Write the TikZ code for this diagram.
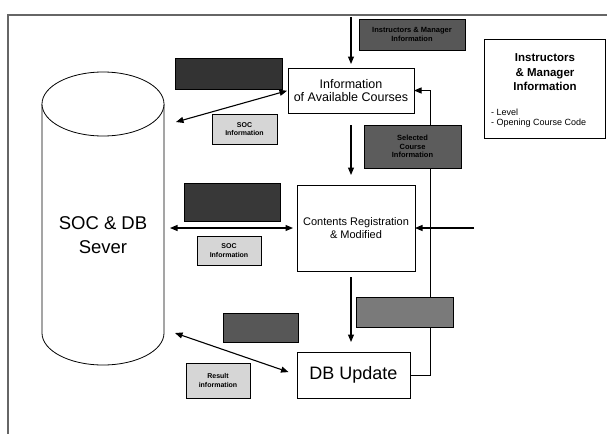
\documentclass[tikz,border=0pt]{standalone}
\usepackage{fontspec}
\setmainfont{Liberation Sans}
\usetikzlibrary{arrows.meta}
\begin{document}
\begin{tikzpicture}[x=1pt,y=-1pt,
  box/.style={draw=black,line width=0.9pt,fill=white,inner sep=0pt,outer sep=0pt,align=center},
  darkbox/.style={draw=black,line width=0.6pt,fill=black!62,inner sep=0pt,align=center,
     font=\bfseries\fontsize{7.5}{8.5}\selectfont,text=black},
  lightbox/.style={draw=black,line width=0.6pt,fill=black!16,inner sep=0pt,align=center,
     font=\bfseries\fontsize{7}{8.5}\selectfont},
  flow/.style={line width=1.1pt,-{Triangle[length=7.5pt,width=6pt]}},
  both/.style={line width=1.1pt,{Triangle[length=7.5pt,width=6pt]}-{Triangle[length=7.5pt,width=6pt]}}]
\useasboundingbox (0,0) rectangle (607,434);
\fill[white] (0,0) rectangle (607,434);
% frame
\draw[black!60,line width=1.2pt] (607,15) -- (8,15) -- (8,434);
% cylinder
\draw[line width=0.8pt] (42,104) -- (42,333) arc[start angle=180,end angle=360,x radius=61pt,y radius=32pt] -- (164,104);
\draw[line width=0.8pt,fill=white] (103,104) ellipse [x radius=61pt, y radius=32pt];
\node[inner sep=0pt,align=center,font=\fontsize{18.5}{24}\selectfont] (srv) at (103,235) {SOC \& DB\\Sever};
% process boxes
\node[box,minimum width=126pt,minimum height=45pt,font=\fontsize{12.5}{13.5}\selectfont] (b1) at (351,90.5) {Information\\of Available Courses};
\node[box,minimum width=118pt,minimum height=86pt,font=\fontsize{11}{13}\selectfont] (b2) at (356,228) {Contents Registration\\\& Modified};
\node[box,minimum width=113pt,minimum height=46pt,font=\fontsize{18}{20}\selectfont] (b3) at (353.5,375) {DB Update};
% info box
\node[box,minimum width=121pt,minimum height=99pt] (ib) at (545,88.5) {};
\node[align=center,inner sep=0pt,font=\bfseries\fontsize{11.5}{14.5}\selectfont] (it) at (545,72.5) {Instructors\\\& Manager\\Information};
\node[align=left,inner sep=0pt,anchor=west,font=\fontsize{9}{10.5}\selectfont] (il) at (491,118) {- Level\\- Opening Course Code};
% coordinates for free ends
\coordinate (tin) at (351,17);
\coordinate (rin) at (474,228);
\coordinate (c1) at (176,122);
\coordinate (c2) at (170,228);
\coordinate (c3) at (175,333);
% connectors
\draw[flow,shorten >=4pt] (tin) -- (b1.north);
\draw[flow,shorten <=12pt,shorten >=10pt] (b1.south) -- (b1.south |- b2.north);
\draw[flow,shorten <=6pt,shorten >=10pt] (b1.south |- b2.south) -- (b1.south |- b3.north);
\draw[flow,line width=1pt] (b3.east) -- ++(20,0) |- (b1.east);
\draw[flow] (rin) -- (b2.east);
\draw[both,shorten >=1pt] (c1) -- (b1.west);
\draw[both,shorten >=4pt] (c2) -- (b2.west);
\draw[both,shorten >=9pt] (c3) -- (b3.west);
% dark labels
\node[darkbox,fill=black!66,minimum width=106pt,minimum height=31pt] (d1) at (412,34.5) {Instructors \& Manager\\Information};
\node[darkbox,fill=black!80,minimum width=107pt,minimum height=31pt] (d2) at (228.5,73.5) {};
\node[darkbox,fill=black!64,minimum width=97pt,minimum height=43pt] (d3) at (412.5,146.5) {Selected\\Course\\Information};
\node[darkbox,fill=black!78,minimum width=96pt,minimum height=38pt] (d4) at (232,202) {};
\node[darkbox,fill=black!52,minimum width=97pt,minimum height=30pt] (d5) at (404.5,312) {};
\node[darkbox,fill=black!66,minimum width=75pt,minimum height=29pt] (d6) at (260.5,327.5) {};
% light labels
\node[lightbox,minimum width=65pt,minimum height=30pt] (l1) at (244.5,129) {SOC\\Information};
\node[lightbox,minimum width=64pt,minimum height=29pt] (l2) at (229,250.5) {SOC\\Information};
\node[lightbox,minimum width=64pt,minimum height=35pt] (l3) at (218,380.5) {Result\\information};
\end{tikzpicture}
\end{document}
